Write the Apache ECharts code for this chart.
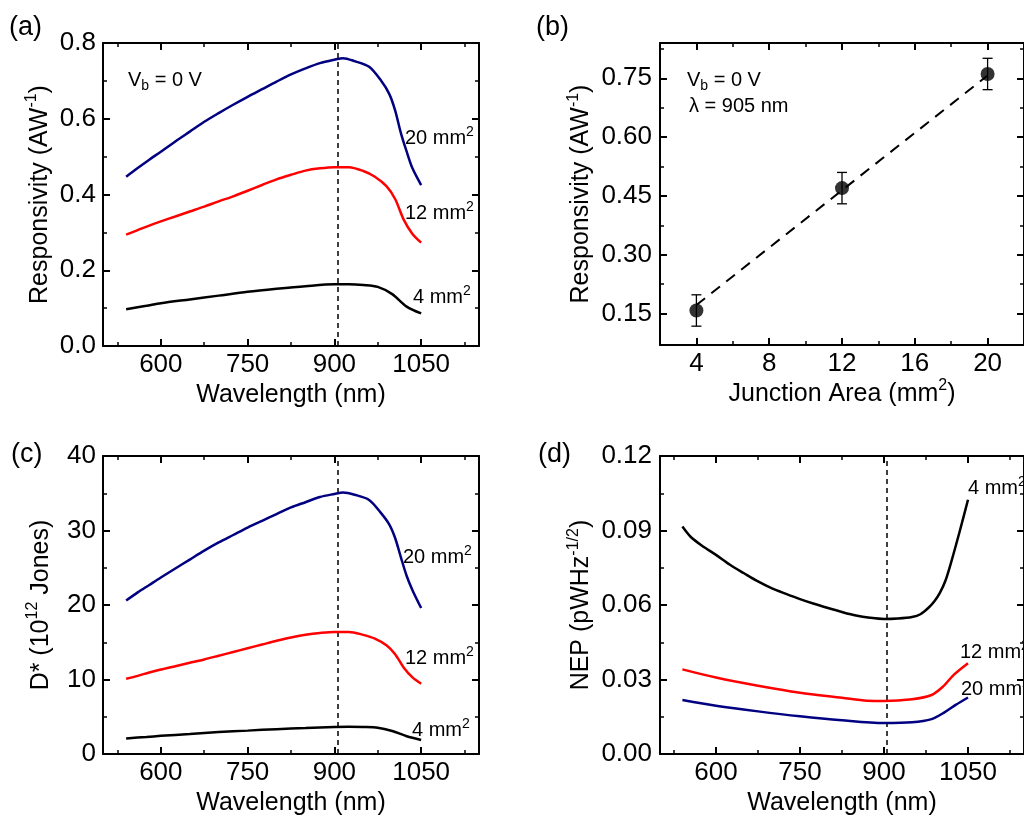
<!DOCTYPE html>
<html>
<head>
<meta charset="utf-8">
<script src="https://cdn.jsdelivr.net/npm/echarts@6/dist/echarts.min.js"></script>
<style>html,body{margin:0;padding:0;background:#fff;}#chart{width:1024px;height:820px;}</style>
</head>
<body>
<div id="chart"></div>
<script>
// ---------- data ----------
// (a) responsivity vs wavelength
const wl20 = [540,560,580,600,625,650,675,700,725,750,775,800,825,850,875,900,915,935,960,980,995,1005,1015,1025,1035,1050];
const resp20 = [0.447,0.470,0.492,0.513,0.540,0.566,0.592,0.615,0.637,0.658,0.678,0.698,0.717,0.733,0.747,0.756,0.760,0.752,0.737,0.702,0.665,0.622,0.562,0.513,0.469,0.425];
const wl12 = [540,560,580,600,625,650,675,700,725,750,775,800,825,850,875,900,925,950,970,990,1005,1020,1035,1050];
const resp12 = [0.294,0.306,0.318,0.329,0.342,0.355,0.368,0.382,0.395,0.410,0.425,0.440,0.452,0.463,0.469,0.472,0.472,0.462,0.447,0.422,0.388,0.333,0.296,0.273];
const wl4 = [540,575,600,650,700,750,800,850,900,925,950,975,1000,1025,1050];
const resp4 = [0.097,0.106,0.113,0.123,0.133,0.143,0.151,0.158,0.163,0.163,0.161,0.156,0.137,0.104,0.086];
// (b) responsivity vs junction area
const areas = [4,12,20];
const respB = [0.158,0.470,0.761];
const errB = [0.040,0.040,0.040];
const fitArea = [4,20];
const fitResp = [0.172,0.757];
// (c) detectivity (10^12 Jones)
const dstar20 = [20.6,21.7,22.7,23.7,24.9,26.1,27.3,28.4,29.4,30.4,31.3,32.2,33.1,33.8,34.5,34.9,35.1,34.8,34.1,32.4,30.8,29.0,26.4,23.9,22.0,19.6];
const dstar12 = [10.1,10.5,10.95,11.35,11.8,12.25,12.7,13.2,13.7,14.2,14.7,15.2,15.65,16.0,16.25,16.4,16.4,16.0,15.5,14.6,13.4,11.6,10.3,9.45];
const dstar4 = [2.1,2.3,2.45,2.7,2.95,3.15,3.35,3.5,3.65,3.68,3.65,3.55,3.1,2.4,1.9];
// (d) NEP (pW Hz^-1/2)
const nepWl4 = [540,555,575,600,625,650,675,700,725,750,775,800,825,850,875,900,925,950,965,980,990,1000,1010,1020,1035,1050];
const nep4 = [0.0916,0.0874,0.0839,0.0802,0.0762,0.0728,0.0695,0.0667,0.0645,0.0624,0.0605,0.0588,0.0572,0.0558,0.0549,0.0544,0.0546,0.0552,0.0563,0.0590,0.0615,0.0650,0.0700,0.0773,0.0895,0.1024];
const nepWl12 = [540,600,675,750,825,870,900,950,985,1005,1025,1050];
const nep12 = [0.0341,0.0308,0.0275,0.0247,0.0227,0.0215,0.0214,0.0221,0.0238,0.0271,0.0320,0.0366];
const nepWl20 = [540,600,675,750,825,900,950,985,1008,1028,1050];
const nep20 = [0.0218,0.0195,0.0172,0.0152,0.0136,0.0125,0.0128,0.0141,0.0168,0.0198,0.0228];
const markWavelength = 905;
// tick values
const wlMajor = [600,750,900,1050];
const wlMinor = [525,675,825,975,1125];
const aYMajor = [0,0.2,0.4,0.6,0.8];
const aYMinor = [0.1,0.3,0.5,0.7];
const bXMajor = [4,8,12,16,20];
const bXMinor = [6,10,14,18];
const bYMajor = [0.15,0.30,0.45,0.60,0.75];
const bYMinor = [0.225,0.375,0.525,0.675,0.825];
const cYMajor = [0,10,20,30,40];
const cYMinor = [5,15,25,35];
const dYMajor = [0,0.03,0.06,0.09,0.12];
const dYMinor = [0.015,0.045,0.075,0.105];

// ---------- styling ----------
const FONT = "'Liberation Sans', Arial, Helvetica, sans-serif";
const NAVY = '#000080', RED = '#ff0000', BLACK = '#000000';

const nameStyle = {
  color: '#000', fontSize: 25, fontFamily: FONT, lineHeight: 32,
  rich: { sup: { fontSize: 16, lineHeight: 16, verticalAlign: 'top', fontFamily: FONT, color: '#000' } }
};

function axisSet(dim, gridIndex, cfg) {
  const mainPos = dim === 'x' ? 'bottom' : 'left';
  const oppPos = dim === 'x' ? 'top' : 'right';
  const base = { type: 'value', gridIndex, min: cfg.min, max: cfg.max, splitLine: { show: false } };
  const line = { show: true, onZero: false, lineStyle: { color: '#000', width: 2 } };
  const noLine = { show: false, onZero: false };
  const major = { show: true, inside: true, length: 7, customValues: cfg.major, lineStyle: { color: '#000', width: 2 } };
  const minor = { show: true, inside: true, length: 4, customValues: cfg.minor, lineStyle: { color: '#000', width: 1.5 } };
  return [
    Object.assign({}, base, {
      position: mainPos, axisLine: line, axisTick: major,
      axisLabel: { show: true, customValues: cfg.major, formatter: cfg.fmt, margin: cfg.margin,
                   color: '#000', fontSize: 26, fontFamily: FONT },
      name: cfg.name, nameLocation: 'middle', nameGap: cfg.nameGap, nameTextStyle: nameStyle
    }),
    Object.assign({}, base, { position: mainPos, axisLine: noLine, axisTick: minor, axisLabel: { show: false } }),
    Object.assign({}, base, { position: oppPos, axisLine: line, axisTick: major, axisLabel: { show: false } }),
    Object.assign({}, base, { position: oppPos, axisLine: noLine, axisTick: minor, axisLabel: { show: false } })
  ];
}

const wlAxisCfg = (name) => ({ min: 500, max: 1150, major: wlMajor, minor: wlMinor, fmt: v => String(v), margin: 6, name, nameGap: 31 });

const xAxes = [].concat(
  axisSet('x', 0, wlAxisCfg('Wavelength (nm)')),
  axisSet('x', 1, { min: 2, max: 22, major: bXMajor, minor: bXMinor, fmt: v => String(v), margin: 6, name: 'Junction Area (mm{sup|2})', nameGap: 31 }),
  axisSet('x', 2, wlAxisCfg('Wavelength (nm)')),
  axisSet('x', 3, wlAxisCfg('Wavelength (nm)'))
);
const yAxes = [].concat(
  axisSet('y', 0, { min: 0, max: 0.8, major: aYMajor, minor: aYMinor, fmt: v => v.toFixed(1), margin: 7, name: 'Responsivity (AW{sup|-1})', nameGap: 46 }),
  axisSet('y', 1, { min: 0.07, max: 0.84, major: bYMajor, minor: bYMinor, fmt: v => v.toFixed(2), margin: 8, name: 'Responsivity (AW{sup|-1})', nameGap: 62 }),
  axisSet('y', 2, { min: 0, max: 40, major: cYMajor, minor: cYMinor, fmt: v => String(v), margin: 7, name: 'D* (10{sup|12} Jones)', nameGap: 46 }),
  axisSet('y', 3, { min: 0, max: 0.12, major: dYMajor, minor: dYMinor, fmt: v => v.toFixed(2), margin: 8, name: 'NEP (pWHz{sup|-1/2})', nameGap: 62 })
);

function pairs(xs, ys) { return xs.map((x, i) => [x, ys[i]]); }

function curve(g, xs, ys, color, withMark) {
  const s = {
    type: 'line', xAxisIndex: 4 * g, yAxisIndex: 4 * g, data: pairs(xs, ys),
    showSymbol: false, symbol: 'none', smooth: 0.3, silent: true,
    lineStyle: { color, width: 2.5 }, z: 3
  };
  if (withMark) {
    s.markLine = {
      silent: true, symbol: ['none', 'none'], label: { show: false },
      lineStyle: { color: '#000', width: 1.5, type: [5, 4] },
      data: [{ xAxis: markWavelength }], z: 2
    };
  }
  return s;
}

const series = [
  curve(0, wl20, resp20, NAVY, false),
  curve(0, wl12, resp12, RED, false),
  curve(0, wl4, resp4, BLACK, true),
  curve(2, wl20, dstar20, NAVY, false),
  curve(2, wl12, dstar12, RED, false),
  curve(2, wl4, dstar4, BLACK, true),
  curve(3, nepWl4, nep4, BLACK, true),
  curve(3, nepWl12, nep12, RED, false),
  curve(3, nepWl20, nep20, NAVY, false),
  {
    type: 'line', xAxisIndex: 4, yAxisIndex: 4, data: pairs(fitArea, fitResp),
    symbol: 'none', silent: true, lineStyle: { color: '#000', width: 2, type: [11, 8] }, z: 2
  },
  {
    type: 'custom', xAxisIndex: 4, yAxisIndex: 4, silent: true, z: 4,
    data: areas.map((a, i) => [a, respB[i] - errB[i], respB[i] + errB[i]]),
    encode: { x: 0, y: [1, 2] },
    renderItem: function (params, api) {
      const x = api.value(0);
      const lo = api.coord([x, api.value(1)]);
      const hi = api.coord([x, api.value(2)]);
      const w = 5;
      const st = { stroke: '#000', lineWidth: 1.3 };
      return {
        type: 'group', children: [
          { type: 'line', shape: { x1: lo[0], y1: lo[1], x2: hi[0], y2: hi[1] }, style: st },
          { type: 'line', shape: { x1: lo[0] - w, y1: lo[1], x2: lo[0] + w, y2: lo[1] }, style: st },
          { type: 'line', shape: { x1: hi[0] - w, y1: hi[1], x2: hi[0] + w, y2: hi[1] }, style: st }
        ]
      };
    }
  },
  {
    type: 'scatter', xAxisIndex: 4, yAxisIndex: 4, data: pairs(areas, respB),
    symbol: 'circle', symbolSize: 14, silent: true, itemStyle: { color: '#000' }, z: 5
  }
];

function label(x, y, text, size) {
  const s = Math.round(size * 0.68);
  return {
    type: 'text', x, y, z: 100, silent: true,
    style: {
      text, fill: '#000', fontSize: size, fontFamily: FONT, lineHeight: Math.round(size * 1.3),
      align: 'left', verticalAlign: 'middle',
      rich: {
        sup: { fontSize: s, lineHeight: s, verticalAlign: 'top', fontFamily: FONT, fill: '#000' },
        sub: { fontSize: s, lineHeight: s, verticalAlign: 'bottom', fontFamily: FONT, fill: '#000' }
      }
    }
  };
}

const graphics = [
  label(9, 28, '(a)', 27),
  label(536, 28, '(b)', 27),
  label(11, 455, '(c)', 27),
  label(538, 455, '(d)', 27),
  label(128, 80, 'V{sub|b} = 0 V', 20),
  label(405, 138, '20 mm{sup|2}', 20),
  label(405, 213, '12 mm{sup|2}', 20),
  label(413, 297, '4 mm{sup|2}', 20),
  label(687, 80, 'V{sub|b} = 0 V', 20),
  label(689, 106, 'λ = 905 nm', 20),
  label(403, 557, '20 mm{sup|2}', 20),
  label(405, 658, '12 mm{sup|2}', 20),
  label(412, 730, '4 mm{sup|2}', 20),
  label(968, 488, '4 mm{sup|2}', 20),
  label(960, 652, '12 mm{sup|2}', 20),
  label(961, 689, '20 mm{sup|2}', 20)
];

const option = {
  animation: false,
  backgroundColor: '#fff',
  textStyle: { fontFamily: FONT },
  grid: [
    { left: 103, top: 43, width: 376, height: 303, containLabel: false },
    { left: 660, top: 43, width: 374, height: 302, containLabel: false },
    { left: 103, top: 456, width: 376, height: 302, containLabel: false },
    { left: 660, top: 456, width: 377, height: 302, containLabel: false }
  ],
  xAxis: xAxes,
  yAxis: yAxes,
  series,
  graphic: graphics
};

const chart = echarts.init(document.getElementById('chart'), null, { renderer: 'canvas', width: 1024, height: 820 });
chart.setOption(option);
</script>
</body>
</html>
